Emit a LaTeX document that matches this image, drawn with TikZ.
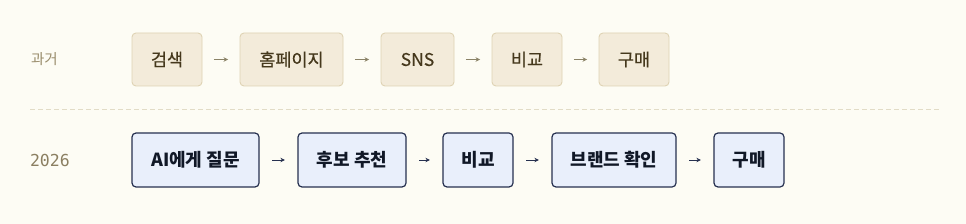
\documentclass[tikz,border=0pt]{standalone}
\usepackage{fontspec}
\setmainfont{Noto Sans CJK KR}
\newfontfamily\medfont[FakeBold=0.5]{Noto Sans CJK KR}
\newfontfamily\monofont{DejaVu Sans Mono}
\usetikzlibrary{arrows.meta,positioning}
\definecolor{paper}{HTML}{FDFCF4}
\definecolor{oldfill}{HTML}{F3EBDA}
\definecolor{olddraw}{HTML}{DFD3B4}
\definecolor{oldtext}{HTML}{45381C}
\definecolor{oldarrow}{HTML}{8A8266}
\definecolor{newfill}{HTML}{E9EFFB}
\definecolor{newdraw}{HTML}{26304F}
\definecolor{newtext}{HTML}{111827}
\definecolor{rowlbl}{HTML}{9A8D6C}
\definecolor{divider}{HTML}{E2DCC6}
\tikzset{
  >=Stealth,
  lbl/.style={font=\fontsize{14.5}{16}\selectfont, text=rowlbl, anchor=west}
}

\begin{document}
\begin{tikzpicture}[x=1pt, y=-1pt,
        box/.style={rounded corners=4pt, minimum height=53pt, inner sep=0pt, font=\medfont\fontsize{17.5}{20}\selectfont},
        past/.style={box, draw=olddraw, line width=0.9pt, fill=oldfill, text=oldtext},
        now/.style={box, draw=newdraw, line width=1.2pt, fill=newfill, text=newtext, font=\fontsize{18}{20}\selectfont\bfseries, minimum height=54pt},
        flow/.style={-{Stealth[length=4.5pt,width=4.5pt]}, line width=0.9pt, shorten <=11.5pt, shorten >=11.5pt}
    ]
    \fill[paper] (0,0) rectangle (966,224);
    \useasboundingbox (0,0) rectangle (966,224);
    % before
    \node[lbl] (past) at (27.5, 59) {과거};
    \node[past, minimum width=70pt] (search) at (167, 59.5) {검색};
    \node[past, minimum width=103pt] (home) at (291.5, 59.5) {홈페이지};
    \node[past, minimum width=73pt] (sns) at (417.5, 59.5) {SNS};
    \node[past, minimum width=70pt] (cmp) at (527, 59.5) {비교};
    \node[past, minimum width=70pt] (buy) at (634, 59.5) {구매};
    \draw[flow, oldarrow] (search) -- (home);
    \draw[flow, oldarrow] (home) -- (sns);
    \draw[flow, oldarrow] (sns) -- (cmp);
    \draw[flow, oldarrow] (cmp) -- (buy);
    % divider
    \coordinate (divl) at (30, 109.5);
    \coordinate (divr) at (940, 109.5);
    \draw[divider, line width=1pt, dash pattern=on 5pt off 3pt] (divl) -- (divr);
    % 2026
    \node[lbl, font=\monofont\fontsize{16.5}{18}\selectfont, text=rowlbl!90!black] (year) at (26.5, 160) {2026};
    \node[now, minimum width=127pt] (ask) at (195.5, 160) {AI에게 질문};
    \node[now, minimum width=108pt] (pick) at (352, 160) {후보 추천};
    \node[now, minimum width=70pt] (cmp2) at (478, 160) {비교};
    \node[now, minimum width=124pt] (brand) at (614, 160) {브랜드 확인};
    \node[now, minimum width=70pt] (buy2) at (749, 160) {구매};
    \draw[flow, newdraw, shorten <=12.5pt, shorten >=12.5pt] (ask) -- (pick);
    \draw[flow, newdraw, shorten <=12.5pt, shorten >=12.5pt] (pick) -- (cmp2);
    \draw[flow, newdraw, shorten <=12.5pt, shorten >=12.5pt] (cmp2) -- (brand);
    \draw[flow, newdraw, shorten <=12.5pt, shorten >=12.5pt] (brand) -- (buy2);
\end{tikzpicture}
\end{document}
